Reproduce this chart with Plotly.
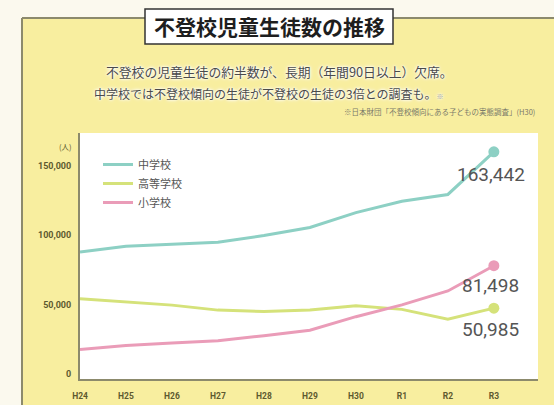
import plotly.graph_objects as go

# ---------------- data ----------------
years = ["H24", "H25", "H26", "H27", "H28", "H29", "H30", "R1", "R2", "R3"]
junior_high = [91446, 95442, 97033, 98408, 103235, 108999, 119687, 127922, 132777, 163442]
high_school = [57664, 55655, 53156, 49563, 48565, 49643, 52723, 50100, 43051, 50985]
elementary = [21243, 24175, 25864, 27583, 31151, 35032, 44841, 53350, 63350, 81498]
series_names = ["中学校", "高等学校", "小学校"]
y_ticks = [0, 50000, 100000, 150000]
y_tick_text = ["0", "50,000", "100,000", "150,000"]

title_text = "不登校児童生徒数の推移"
sub1 = "不登校の児童生徒の約半数が、長期（年間90日以上）欠席。"
sub2 = "中学校では不登校傾向の生徒が不登校の生徒の3倍との調査も。"
note_text = "※日本財団「不登校傾向にある子どもの実態調査」(H30)"
unit_text = "(人)"

# ---------------- layout geometry ----------------
W, H = 554, 405
ML, MR, MT, MB = 80, 16, 133, 26
PW, PH = W - ML - MR, H - MT - MB


def xp(px):
    return (px - ML) / PW


def yp(py):
    return (H - MB - py) / PH


colors = ["#8dd0c4", "#d5e27a", "#ea9cb8"]
yellow = "#f8ee9f"
cream = "#fbf9ee"
olive = "#5e5a30"
border = "#8c8a6c"
jp = "Noto Sans CJK JP"

fig = go.Figure()
all_series = [junior_high, high_school, elementary]
for name, vals, col in zip(series_names, all_series, colors):
    fig.add_trace(go.Scatter(x=years, y=vals, mode="lines", name=name,
                             line=dict(color=col, width=3)))
for vals, col in zip(all_series, colors):
    fig.add_trace(go.Scatter(x=[years[-1]], y=[vals[-1]], mode="markers",
                             showlegend=False, hoverinfo="skip",
                             marker=dict(color=col, size=11)))

annotations = []
for vals, ys in zip(all_series, [-23, -21, -20]):
    annotations.append(dict(x=years[-1], y=vals[-1], xref="x", yref="y",
                            text=f"{vals[-1]:,}", showarrow=False,
                            xshift=-3, yshift=ys, xanchor="center", yanchor="middle",
                            font=dict(family="Roboto", size=19, color="#555555")))

glow = "0px 0px 2px white, 0px 0px 3px white, 0px 0px 4px white"
annotations += [
    dict(x=xp(269), y=yp(26), xref="paper", yref="paper", text=title_text,
         xanchor="center", yanchor="middle",
         showarrow=False, font=dict(family=jp, size=21, color="#1e1e1e", weight="bold")),
    dict(x=xp(104), y=yp(72), xref="paper", yref="paper", text=sub1,
         xanchor="left", yanchor="middle",
         showarrow=False, font=dict(family=jp, size=12.8, color="#4a4a4a", shadow=glow)),
    dict(x=xp(92), y=yp(93), xref="paper", yref="paper",
         text=sub2 + "<span style='font-size:7px;color:#999'>※</span>",
         xanchor="left", yanchor="middle",
         showarrow=False, font=dict(family=jp, size=12, color="#4a4a4a", shadow=glow)),
    dict(x=xp(537), y=yp(111), xref="paper", yref="paper", text=note_text,
         xanchor="right", yanchor="middle",
         showarrow=False, font=dict(family=jp, size=7.5, color="#7a7a6a")),
    dict(x=xp(74), y=yp(146), xref="paper", yref="paper", text=unit_text,
         xanchor="right", yanchor="middle",
         showarrow=False, font=dict(family=jp, size=7.5, color=olive)),
]

shapes = [
    dict(type="rect", xref="paper", yref="paper", x0=xp(0), x1=xp(22), y0=yp(H), y1=yp(0),
         fillcolor=cream, line=dict(width=0), layer="below"),
    dict(type="rect", xref="paper", yref="paper", x0=xp(0), x1=xp(W), y0=yp(18), y1=yp(0),
         fillcolor=cream, line=dict(width=0), layer="below"),
    dict(type="line", xref="paper", yref="paper", x0=xp(22), x1=xp(22), y0=yp(H), y1=yp(18),
         line=dict(color=border, width=2), layer="below"),
    dict(type="line", xref="paper", yref="paper", x0=xp(22), x1=xp(W), y0=yp(18), y1=yp(18),
         line=dict(color=border, width=2), layer="below"),
    dict(type="rect", xref="paper", yref="paper", x0=xp(145), x1=xp(393), y0=yp(44), y1=yp(9),
         fillcolor="white", line=dict(color="#333333", width=1.5), layer="above"),
]

fig.update_layout(
    width=W, height=H,
    margin=dict(l=ML, r=MR, t=MT, b=MB, pad=0, autoexpand=False),
    paper_bgcolor=yellow, plot_bgcolor="white",
    showlegend=True,
    legend=dict(x=xp(98), y=yp(150), xanchor="left", yanchor="top",
                bgcolor="rgba(0,0,0,0)", font=dict(family=jp, size=11, color="#555555"),
                itemclick=False),
    annotations=annotations, shapes=shapes,
    xaxis=dict(type="category", range=[0, 9.96], showgrid=False, zeroline=False,
               showline=True, linecolor=border, linewidth=2, ticks="", automargin=False,
               tickfont=dict(family="Roboto", size=8.5, color=olive, weight="bold"),
               ticklabelstandoff=8, fixedrange=True),
    yaxis=dict(range=[0, 177000], showgrid=False, zeroline=False,
               showline=True, linecolor=border, linewidth=2, ticks="", automargin=False,
               tickvals=y_ticks, ticktext=y_tick_text,
               tickfont=dict(family="Roboto", size=9, color=olive, weight="bold"),
               ticklabelshift=-5, ticklabelstandoff=5, fixedrange=True),
)

fig.write_html(
    "out.html",
    config={"displayModeBar": False},
    post_script="document.documentElement.style.overflow='hidden';"
                "document.body.style.overflow='hidden';document.body.style.margin='0';",
)
